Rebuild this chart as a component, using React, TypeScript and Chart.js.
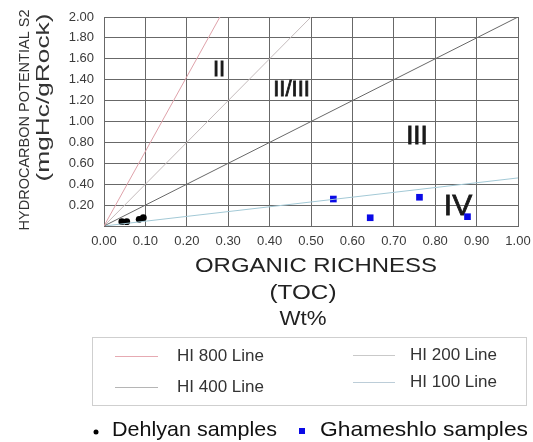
import React, { useEffect, useRef } from 'react';
import { Chart, registerables } from 'chart.js';

Chart.register(...registerables);

// ---- data ----
const xTickValues = [0, 0.1, 0.2, 0.3, 0.4, 0.5, 0.6, 0.7, 0.8, 0.9, 1.0];
const yTickValues = [0.2, 0.4, 0.6, 0.8, 1.0, 1.2, 1.4, 1.6, 1.8, 2.0];

const lineLabels = ['HI 800 Line', 'HI 400 Line', 'HI 200 Line', 'HI 100 Line'];
const lineStartX = [0, 0, 0, 0];
const lineStartY = [0, 0, 0, 0];
const lineEndX = [0.28, 1.0, 0.5, 1.0];
const lineEndY = [2.0, 2.0, 2.0, 0.46];

const dehlyanX = [0.043, 0.055, 0.085, 0.095];
const dehlyanY = [0.041, 0.041, 0.064, 0.08];
const ghameshloX = [0.554, 0.643, 0.762, 0.878];
const ghameshloY = [0.258, 0.079, 0.275, 0.089];

const regionLabels = ['II', 'II/III', 'III', 'IV'];
const regionX = [0.278, 0.453, 0.756, 0.855];
const regionY = [1.49, 1.3, 0.856, 0.18];

const yTitleLines = ['HYDROCARBON POTENTIAL S2', '(mgHc/gRock)'];
const xTitleLines = ['ORGANIC RICHNESS', '(TOC)', 'Wt%'];
const sampleLabels = ['Dehlyan samples', 'Ghameshlo samples'];

// ---- styles ----
const FONT = '"Liberation Sans", Arial, Helvetica, sans-serif';
const lineColors = ['#dfa2aa', '#686868', '#c4bbbc', '#a3c9d6'];
const legendLineColors = ['#e6aab2', '#b5b5b5', '#c9c9c9', '#bccdd8'];
const regionFontSize = [22, 22, 26, 30];
const gridColor = '#686868';

function drawText(
  ctx: CanvasRenderingContext2D,
  text: string,
  x: number,
  y: number,
  font: string,
  target: number | null,
  rotate: boolean,
  align: CanvasTextAlign,
  color: string,
  strokeW = 0
) {
  ctx.save();
  ctx.font = font;
  ctx.fillStyle = color;
  const w = ctx.measureText(text).width;
  ctx.translate(x, y);
  if (rotate) ctx.rotate(-Math.PI / 2);
  if (target) ctx.scale(target / w, 1);
  ctx.textAlign = align;
  ctx.textBaseline = 'middle';
  ctx.fillText(text, 0, 0);
  if (strokeW) {
    ctx.strokeStyle = color;
    ctx.lineWidth = strokeW;
    ctx.strokeText(text, 0, 0);
  }
  ctx.restore();
}

const annotatePlugin = {
  id: 'annotate',
  beforeDatasetsDraw(chart: any) {
    const ctx: CanvasRenderingContext2D = chart.ctx;
    const xs = chart.scales.x;
    const ys = chart.scales.y;
    regionLabels.forEach((t, i) => {
      drawText(
        ctx,
        t,
        xs.getPixelForValue(regionX[i]),
        ys.getPixelForValue(regionY[i]),
        `${regionFontSize[i]}px ${FONT}`,
        null,
        false,
        'center',
        '#1a1a1a',
        0.8
      );
    });
  },
  afterDraw(chart: any) {
    const ctx: CanvasRenderingContext2D = chart.ctx;
    // y title
    drawText(ctx, yTitleLines[0], 25.5, 120, `14px ${FONT}`, 221, true, 'center', '#333');
    drawText(ctx, yTitleLines[1], 44, 97.5, `18px ${FONT}`, 168, true, 'center', '#333');
    // x title
    drawText(ctx, xTitleLines[0], 316, 266, `21px ${FONT}`, 242, false, 'center', '#222');
    drawText(ctx, xTitleLines[1], 303, 293, `21px ${FONT}`, 67, false, 'center', '#222');
    drawText(ctx, xTitleLines[2], 303, 319, `21px ${FONT}`, 47, false, 'center', '#222');

    // legend box
    ctx.save();
    ctx.strokeStyle = '#cfcfcf';
    ctx.lineWidth = 1;
    ctx.strokeRect(92.5, 337.5, 434, 68);
    ctx.restore();
    const ds = chart.data.datasets;
    const slots = [
      { lx: 115, rx: 158, tx: 177, y: 356 },
      { lx: 115, rx: 158, tx: 177, y: 387 },
      { lx: 353, rx: 395, tx: 410, y: 355 },
      { lx: 353, rx: 395, tx: 410, y: 382 },
    ];
    for (let i = 0; i < 4; i++) {
      const s = slots[i];
      ctx.save();
      ctx.strokeStyle = legendLineColors[i];
      ctx.lineWidth = 1;
      ctx.beginPath();
      ctx.moveTo(s.lx, s.y + 0.5);
      ctx.lineTo(s.rx, s.y + 0.5);
      ctx.stroke();
      ctx.restore();
      drawText(ctx, ds[i].label, s.tx, s.y, `17px ${FONT}`, null, false, 'left', '#333');
    }

    // sample legend
    ctx.save();
    ctx.fillStyle = '#000';
    ctx.beginPath();
    ctx.arc(96, 432, 2.5, 0, Math.PI * 2);
    ctx.fill();
    ctx.fillStyle = '#0a0ae6';
    ctx.fillRect(299, 428, 6, 6);
    ctx.restore();
    drawText(ctx, ds[4].label, 112, 430, `21px ${FONT}`, 165, false, 'left', '#111');
    drawText(ctx, ds[5].label, 320, 430, `21px ${FONT}`, 208, false, 'left', '#111');
  },
};

export default function App() {
  const canvasRef = useRef<HTMLCanvasElement | null>(null);

  useEffect(() => {
    document.body.style.margin = '0';
    const canvas = canvasRef.current;
    if (!canvas) return;

    const lineDatasets = lineLabels.map((label, i) => ({
      label,
      data: [
        { x: lineStartX[i], y: lineStartY[i] },
        { x: lineEndX[i], y: lineEndY[i] },
      ],
      showLine: true,
      borderColor: lineColors[i],
      backgroundColor: lineColors[i],
      borderWidth: 1,
      pointRadius: 0,
      fill: false,
    }));

    const chart = new Chart(canvas, {
      type: 'scatter',
      data: {
        datasets: [
          ...lineDatasets,
          {
            label: sampleLabels[0],
            data: dehlyanX.map((x, i) => ({ x, y: dehlyanY[i] })),
            pointStyle: 'circle',
            pointRadius: 3.4,
            backgroundColor: '#000',
            borderColor: '#000',
            borderWidth: 0,
          },
          {
            label: sampleLabels[1],
            data: ghameshloX.map((x, i) => ({ x, y: ghameshloY[i] })),
            pointStyle: 'rect',
            pointRadius: 4.7,
            backgroundColor: '#0a0ae6',
            borderColor: '#0a0ae6',
            borderWidth: 0,
          },
        ],
      },
      options: {
        responsive: false,
        animation: false,
        layout: { padding: { left: 0, top: 17, right: 15, bottom: 0 } },
        plugins: {
          legend: { display: false },
          tooltip: { enabled: false },
        },
        scales: {
          x: {
            type: 'linear',
            min: 0,
            max: 1,
            afterFit: (s: any) => {
              s.height = 216;
              s.paddingLeft = 0;
              s.paddingRight = 0;
            },
            afterBuildTicks: (s: any) => {
              s.ticks = xTickValues.map((v) => ({ value: v }));
            },
            grid: { color: gridColor, lineWidth: 1, drawTicks: false },
            border: { color: gridColor },
            ticks: {
              autoSkip: false,
              maxRotation: 0,
              padding: 8,
              color: '#3a3a3a',
              font: { family: FONT, size: 13 },
              callback: (v: any) => Number(v).toFixed(2),
            },
          },
          y: {
            type: 'linear',
            min: 0,
            max: 2,
            afterFit: (s: any) => {
              s.width = 104;
              s.paddingTop = 0;
              s.paddingBottom = 0;
            },
            afterBuildTicks: (s: any) => {
              s.ticks = [0, ...yTickValues].map((v) => ({ value: v }));
            },
            grid: { color: gridColor, lineWidth: 1, drawTicks: false },
            border: { color: gridColor },
            ticks: {
              autoSkip: false,
              padding: 10,
              color: '#3a3a3a',
              font: { family: FONT, size: 13 },
              callback: (v: any) => (Number(v) === 0 ? '' : Number(v).toFixed(2)),
            },
          },
        },
      },
      plugins: [annotatePlugin],
    } as any);

    return () => chart.destroy();
  }, []);

  return (
    <div style={{ width: 533, height: 442, position: 'relative', background: '#fff' }}>
      <canvas ref={canvasRef} width={533} height={442} style={{ display: 'block' }} />
    </div>
  );
}
